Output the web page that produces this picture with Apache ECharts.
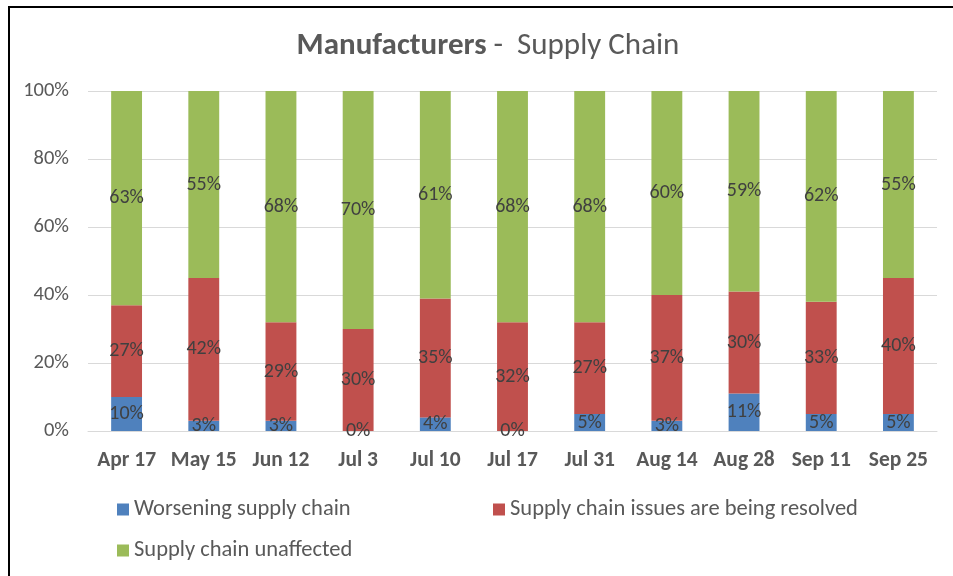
<!DOCTYPE html>
<html>
<head>
<meta charset="utf-8">
<script src="https://cdn.jsdelivr.net/npm/echarts@6/dist/echarts.min.js"></script>
<style>
  html, body { margin: 0; padding: 0; background: #fff; }
  #frame {
    position: absolute; left: 8px; top: 6px; width: 945px; height: 570px;
    border-left: 2px solid #000; border-top: 2px solid #000;
  }
  #chart { position: absolute; left: 0; top: 0; width: 953px; height: 576px; }
</style>
</head>
<body>
<div id="frame"></div>
<div id="chart"></div>
<script>
// categories and values (percent)
var dates = ['Apr 17', 'May 15', 'Jun 12', 'Jul 3', 'Jul 10', 'Jul 17', 'Jul 31', 'Aug 14', 'Aug 28', 'Sep 11', 'Sep 25']
var worsening = [10, 3, 3, 0, 4, 0, 5, 3, 11, 5, 5]
var resolving = [27, 42, 29, 30, 35, 32, 27, 37, 30, 33, 40]
var unaffected = [63, 55, 68, 70, 61, 68, 68, 60, 59, 62, 55]
var seriesNames = ['Worsening supply chain', 'Supply chain issues are being resolved', 'Supply chain unaffected']
var colors = ['#4F81BD', '#C0504D', '#9BBB59']

var font = 'Calibri, "Liberation Sans Narrow", "Open Sans", sans-serif'

var chart = echarts.init(document.getElementById('chart'))

function makeSeries(name, data, color) {
  return {
    name: name,
    type: 'bar',
    stack: 'total',
    barWidth: '40%',
    data: data,
    itemStyle: { color: color },
    label: {
      show: true,
      position: 'inside',
      formatter: '{c}%',
      color: '#404040',
      fontSize: 20,
      fontFamily: font
    }
  }
}

var legendText = { fontFamily: font, fontSize: 22.5, color: '#595959' }

var option = {
  animation: false,
  title: {
    text: '{b|Manufacturers} -  Supply Chain',
    left: 483,
    textAlign: 'center',
    top: 26,
    textStyle: {
      fontFamily: font,
      fontSize: 31,
      fontWeight: 'normal',
      color: '#595959',
      rich: {
        b: { fontFamily: font, fontSize: 31, fontWeight: 'bold', color: '#595959' }
      }
    }
  },
  legend: [
    { data: [seriesNames[0]], left: 112, top: 493, icon: 'rect', itemWidth: 12, itemHeight: 12, textStyle: legendText },
    { data: [seriesNames[1]], left: 488, top: 493, icon: 'rect', itemWidth: 12, itemHeight: 12, textStyle: legendText },
    { data: [seriesNames[2]], left: 112, top: 534, icon: 'rect', itemWidth: 12, itemHeight: 12, textStyle: legendText }
  ],
  grid: { left: 88, right: 16, top: 91, bottom: 145 },
  xAxis: {
    type: 'category',
    data: dates,
    axisLine: { lineStyle: { color: '#d9d9d9', width: 1 } },
    axisTick: { show: false },
    axisLabel: {
      fontFamily: font, fontSize: 21.5, fontWeight: 'bold', color: '#595959', margin: 19, interval: 0
    }
  },
  yAxis: {
    type: 'value',
    min: 0,
    max: 100,
    interval: 20,
    axisLine: { show: false },
    axisTick: { show: false },
    splitLine: { lineStyle: { color: '#d9d9d9', width: 1 } },
    axisLabel: {
      formatter: '{value}%', fontFamily: font, fontSize: 20.5, color: '#595959', margin: 19
    }
  },
  series: [
    makeSeries(seriesNames[0], worsening, colors[0]),
    makeSeries(seriesNames[1], resolving, colors[1]),
    makeSeries(seriesNames[2], unaffected, colors[2])
  ]
}

chart.setOption(option)
</script>
</body>
</html>
